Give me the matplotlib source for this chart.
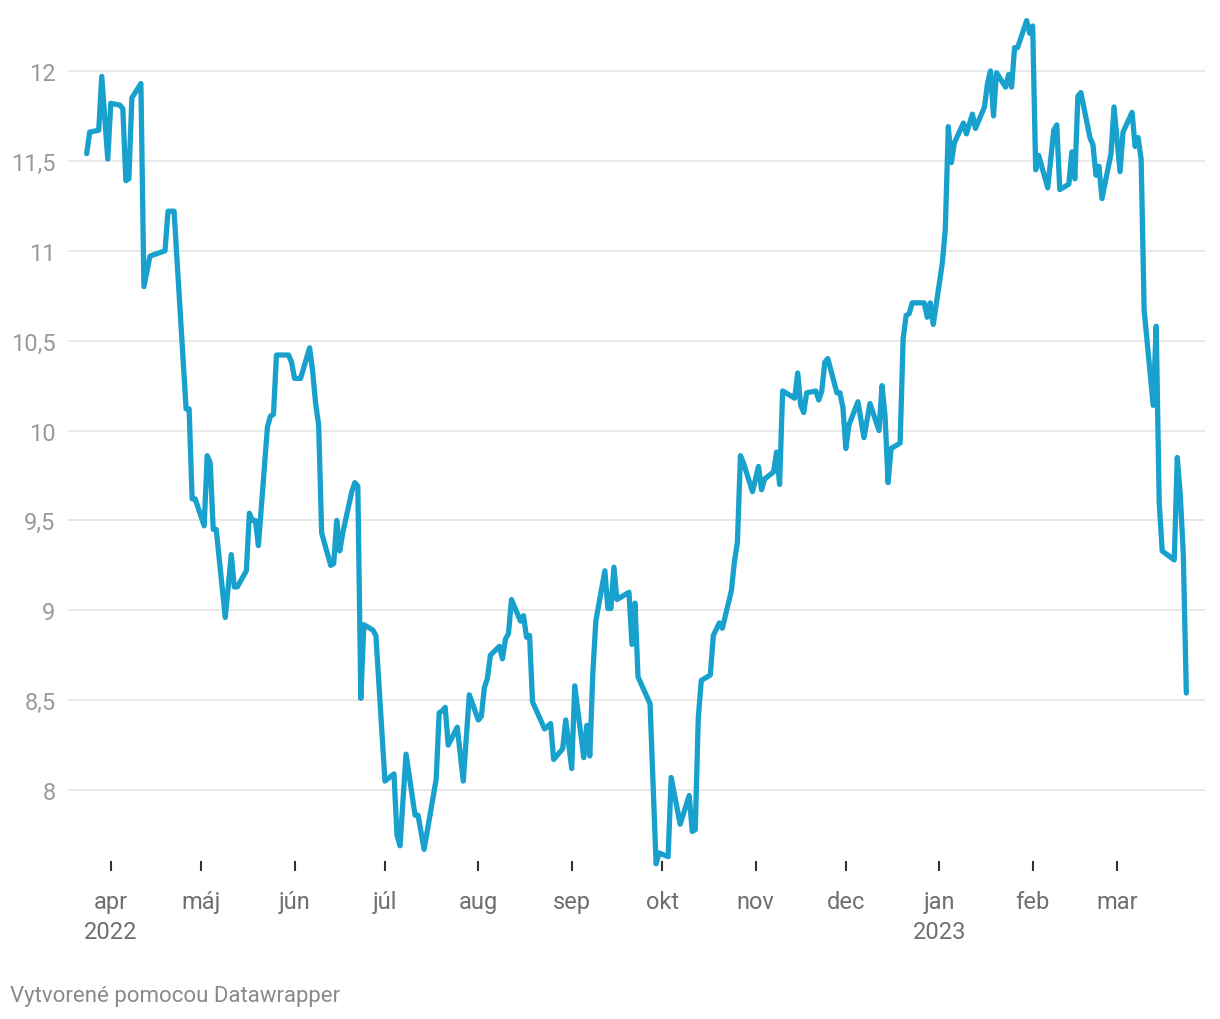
"""
Datawrapper-style line chart: daily values Mar 2022 - Mar 2023.
"""
import matplotlib
matplotlib.use("Agg")
import matplotlib.pyplot as plt
import pandas as pd
from matplotlib.ticker import FuncFormatter

# --- data ----------------------------------------------------------------
dates = [
    "2022-03-24", "2022-03-25", "2022-03-28", "2022-03-29", "2022-03-31",
    "2022-04-01", "2022-04-04", "2022-04-05", "2022-04-06", "2022-04-07",
    "2022-04-08", "2022-04-11", "2022-04-12", "2022-04-14", "2022-04-19",
    "2022-04-20", "2022-04-22", "2022-04-25", "2022-04-26", "2022-04-27",
    "2022-04-28", "2022-04-29", "2022-05-02", "2022-05-03", "2022-05-04",
    "2022-05-05", "2022-05-06", "2022-05-09", "2022-05-11", "2022-05-12",
    "2022-05-13", "2022-05-16", "2022-05-17", "2022-05-18", "2022-05-19",
    "2022-05-20", "2022-05-23", "2022-05-24", "2022-05-25", "2022-05-26",
    "2022-05-27", "2022-05-30", "2022-05-31", "2022-06-01", "2022-06-03",
    "2022-06-06", "2022-06-07", "2022-06-08", "2022-06-09", "2022-06-10",
    "2022-06-13", "2022-06-14", "2022-06-15", "2022-06-16", "2022-06-17",
    "2022-06-20", "2022-06-21", "2022-06-22", "2022-06-23", "2022-06-24",
    "2022-06-27", "2022-06-28", "2022-07-01", "2022-07-04", "2022-07-05",
    "2022-07-06", "2022-07-08", "2022-07-11", "2022-07-12", "2022-07-14",
    "2022-07-18", "2022-07-19", "2022-07-20", "2022-07-21", "2022-07-22",
    "2022-07-25", "2022-07-27", "2022-07-29", "2022-08-01", "2022-08-02",
    "2022-08-03", "2022-08-04", "2022-08-05", "2022-08-08", "2022-08-09",
    "2022-08-10", "2022-08-11", "2022-08-12", "2022-08-15", "2022-08-16",
    "2022-08-17", "2022-08-18", "2022-08-19", "2022-08-23", "2022-08-25",
    "2022-08-26", "2022-08-29", "2022-08-30", "2022-09-01", "2022-09-02",
    "2022-09-05", "2022-09-06", "2022-09-07", "2022-09-08", "2022-09-09",
    "2022-09-12", "2022-09-13", "2022-09-14", "2022-09-15", "2022-09-16",
    "2022-09-19", "2022-09-20", "2022-09-21", "2022-09-22", "2022-09-23",
    "2022-09-27", "2022-09-29", "2022-09-30", "2022-10-03", "2022-10-04",
    "2022-10-07", "2022-10-10", "2022-10-11", "2022-10-12", "2022-10-13",
    "2022-10-14", "2022-10-17", "2022-10-18", "2022-10-20", "2022-10-21",
    "2022-10-24", "2022-10-25", "2022-10-26", "2022-10-27", "2022-10-28",
    "2022-10-31", "2022-11-02", "2022-11-03", "2022-11-04", "2022-11-07",
    "2022-11-08", "2022-11-09", "2022-11-10", "2022-11-14", "2022-11-15",
    "2022-11-16", "2022-11-17", "2022-11-18", "2022-11-21", "2022-11-22",
    "2022-11-23", "2022-11-24", "2022-11-25", "2022-11-28", "2022-11-29",
    "2022-11-30", "2022-12-01", "2022-12-02", "2022-12-05", "2022-12-07",
    "2022-12-09", "2022-12-12", "2022-12-13", "2022-12-14", "2022-12-15",
    "2022-12-16", "2022-12-19", "2022-12-20", "2022-12-21", "2022-12-22",
    "2022-12-23", "2022-12-27", "2022-12-28", "2022-12-29", "2022-12-30",
    "2023-01-02", "2023-01-03", "2023-01-04", "2023-01-05", "2023-01-06",
    "2023-01-09", "2023-01-10", "2023-01-12", "2023-01-13", "2023-01-16",
    "2023-01-17", "2023-01-18", "2023-01-19", "2023-01-20", "2023-01-23",
    "2023-01-24", "2023-01-25", "2023-01-26", "2023-01-27", "2023-01-30",
    "2023-01-31", "2023-02-01", "2023-02-02", "2023-02-03", "2023-02-06",
    "2023-02-08", "2023-02-09", "2023-02-10", "2023-02-13", "2023-02-14",
    "2023-02-15", "2023-02-16", "2023-02-17", "2023-02-20", "2023-02-21",
    "2023-02-22", "2023-02-23", "2023-02-24", "2023-02-27", "2023-02-28",
    "2023-03-02", "2023-03-03", "2023-03-06", "2023-03-07", "2023-03-08",
    "2023-03-09", "2023-03-10", "2023-03-13", "2023-03-14", "2023-03-15",
    "2023-03-16", "2023-03-20", "2023-03-21", "2023-03-22", "2023-03-23",
    "2023-03-24",
]
values = [
    11.54, 11.66, 11.67, 11.97, 11.51,
    11.82, 11.81, 11.79, 11.39, 11.40,
    11.85, 11.93, 10.80, 10.97, 11.00,
    11.22, 11.22, 10.40, 10.12, 10.12,
    9.62, 9.62, 9.47, 9.86, 9.82,
    9.45, 9.45, 8.96, 9.31, 9.13,
    9.13, 9.22, 9.54, 9.50, 9.50,
    9.36, 10.02, 10.08, 10.09, 10.42,
    10.42, 10.42, 10.38, 10.29, 10.29,
    10.46, 10.33, 10.15, 10.03, 9.43,
    9.25, 9.26, 9.50, 9.33, 9.43,
    9.66, 9.71, 9.69, 8.51, 8.92,
    8.89, 8.86, 8.05, 8.09, 7.75,
    7.69, 8.20, 7.86, 7.86, 7.67,
    8.06, 8.43, 8.44, 8.46, 8.25,
    8.35, 8.05, 8.53, 8.39, 8.41,
    8.57, 8.62, 8.75, 8.80, 8.73,
    8.84, 8.87, 9.06, 8.94, 8.97,
    8.85, 8.86, 8.49, 8.34, 8.37,
    8.17, 8.23, 8.39, 8.12, 8.58,
    8.18, 8.36, 8.19, 8.65, 8.94,
    9.22, 9.01, 9.01, 9.24, 9.06,
    9.09, 9.10, 8.81, 9.04, 8.63,
    8.48, 7.59, 7.65, 7.63, 8.07,
    7.81, 7.97, 7.77, 7.78, 8.40,
    8.61, 8.64, 8.86, 8.93, 8.90,
    9.11, 9.27, 9.38, 9.86, 9.82,
    9.66, 9.80, 9.67, 9.73, 9.77,
    9.88, 9.70, 10.22, 10.18, 10.32,
    10.14, 10.10, 10.21, 10.22, 10.17,
    10.22, 10.38, 10.40, 10.21, 10.21,
    10.13, 9.90, 10.03, 10.16, 9.96,
    10.15, 10.00, 10.25, 10.08, 9.71,
    9.90, 9.93, 10.51, 10.64, 10.65,
    10.71, 10.71, 10.63, 10.71, 10.59,
    10.93, 11.12, 11.69, 11.49, 11.60,
    11.71, 11.65, 11.76, 11.68, 11.80,
    11.93, 12.00, 11.75, 11.99, 11.91,
    11.98, 11.91, 12.13, 12.13, 12.28,
    12.21, 12.25, 11.45, 11.53, 11.35,
    11.67, 11.70, 11.34, 11.37, 11.55,
    11.40, 11.86, 11.88, 11.63, 11.59,
    11.42, 11.47, 11.29, 11.54, 11.80,
    11.44, 11.66, 11.77, 11.58, 11.63,
    11.51, 10.67, 10.14, 10.58, 9.60,
    9.33, 9.28, 9.85, 9.64, 9.31,
    8.54,
]

tick_dates = [
    "2022-04-01", "2022-05-01", "2022-06-01", "2022-07-01", "2022-08-01",
    "2022-09-01", "2022-10-01", "2022-11-01", "2022-12-01", "2023-01-01",
    "2023-02-01", "2023-03-01",
]
tick_labels = [
    "apr\n2022", "máj", "jún", "júl", "aug", "sep", "okt", "nov", "dec",
    "jan\n2023", "feb", "mar",
]
y_ticks = [8, 8.5, 9, 9.5, 10, 10.5, 11, 11.5, 12]

# --- figure --------------------------------------------------------------
plt.rcParams["font.family"] = ["Roboto", "DejaVu Sans"]

W, H = 1220, 1020
fig = plt.figure(figsize=(W / 100, H / 100), dpi=100)
ax = fig.add_axes([68 / W, 158 / H, 1137 / W, 842 / H])

x = pd.to_datetime(dates)
ax.plot(x, values, color="#18a1cd", linewidth=3.8,
        solid_joinstyle="round", solid_capstyle="round", clip_on=False, zorder=3)

start = pd.Timestamp("2022-04-01")
ax.set_xlim(start + pd.Timedelta(days=-14.2), start + pd.Timedelta(days=363.2))
ax.set_ylim(7.6056, 12.289)

ax.set_yticks(y_ticks)
ax.yaxis.set_major_formatter(
    FuncFormatter(lambda v, _: f"{v:g}".replace(".", ",")))
ax.tick_params(axis="y", length=0, pad=9, labelsize=17, labelcolor="#9a9a9a")
ax.grid(axis="y", color="#e2e2e2", linewidth=1.1)
ax.set_axisbelow(True)

ax.set_xticks(pd.to_datetime(tick_dates))
ax.set_xticklabels(tick_labels, linespacing=1.4)
ax.tick_params(axis="x", direction="out", length=7.5, width=1.5,
               color="#333333", pad=13.5, labelsize=17, labelcolor="#6f6f6f")

for s in ax.spines.values():
    s.set_visible(False)

fig.text(10 / W, 1 - 997 / H, "Vytvorené pomocou Datawrapper",
         fontsize=16, color="#8a8a8a", va="center", ha="left")

fig.savefig("out.png", dpi=100)
plt.close(fig)
